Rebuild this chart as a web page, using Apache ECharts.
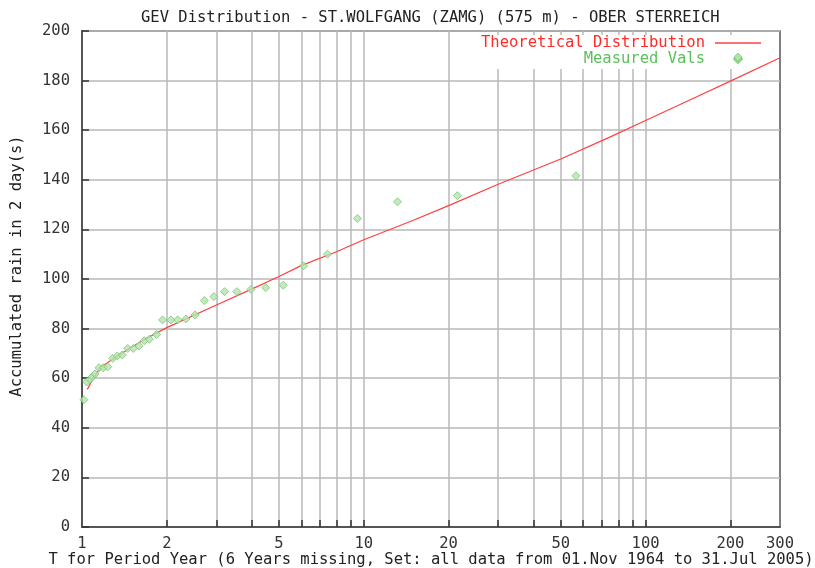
<!DOCTYPE html>
<html>
<head>
<meta charset="utf-8">
<script src="https://cdn.jsdelivr.net/npm/echarts@6/dist/echarts.min.js"></script>
<style>
  html, body { margin: 0; padding: 0; background: #fff; }
  #chart { width: 815px; height: 568px; }
</style>
</head>
<body>
<div id="chart"></div>
<script>
// return periods (years) and measured 2-day rain of the points
const measuredT = [1.016, 1.039, 1.067, 1.088, 1.112, 1.149, 1.19, 1.234, 1.285, 1.335,
  1.39, 1.453, 1.521, 1.594, 1.664, 1.733, 1.841, 1.932, 2.068, 2.186,
  2.337, 2.52, 2.717, 2.937, 3.206, 3.545, 3.977, 4.487, 5.178, 6.114,
  7.434, 9.488, 13.17, 21.48, 56.6, 212.8]
const measuredVals = [51.3, 58.5, 59.5, 60.6, 61.7, 64.2, 64.2, 64.6, 68, 69,
  69.4, 72, 72, 73, 75.1, 75.7, 77.6, 83.5, 83.5, 83.5,
  83.9, 85.5, 91.3, 92.9, 94.9, 94.9, 95.8, 96.5, 97.5, 105.3,
  110, 124.4, 131.1, 133.6, 141.6, 189.5]

// theoretical GEV curve
const theoryT = [1.044, 1.1, 1.171, 1.379, 1.669, 2, 3, 4, 5, 6, 8, 10, 15, 20, 30, 50, 75, 100, 150, 200, 300]
const theoryVals = [55.5, 60.2, 64.6, 70.0, 75.7, 80.4, 89.5, 95.9, 101.0, 105.4, 111.0, 115.8,
  123.7, 129.6, 138.2, 148.4, 157.3, 163.9, 173.2, 179.8, 189.2]

// axis ticks
const xGridVals = [2, 3, 4, 5, 6, 7, 8, 9, 10, 20, 30, 40, 50, 60, 70, 80, 90, 100, 200]
const xLabelVals = [1, 2, 5, 10, 20, 50, 100, 200, 300]

const FONT = 'DejaVu Sans Mono'
const FS = 15.5

const chart = echarts.init(document.getElementById('chart'))

const option = {
  animation: false,
  backgroundColor: '#fff',
  title: {
    text: 'GEV Distribution - ST.WOLFGANG (ZAMG) (575 m) - OBER STERREICH',
    left: 141,
    top: 10,
    padding: 0,
    textStyle: { fontFamily: FONT, fontSize: FS, fontWeight: 'normal', color: '#222' }
  },
  legend: {
    orient: 'vertical',
    align: 'right',
    right: 46,
    top: 35,
    padding: [0, 8, 2, 8],
    itemGap: 0,
    itemWidth: 46,
    itemHeight: 8,
    symbolKeepAspect: true,
    selectedMode: false,
    backgroundColor: '#fff',
    formatter: name => name.padStart(24, ' '),
    textStyle: { fontFamily: FONT, fontSize: FS, lineHeight: 14, padding: [0, 5, 0, 0] },
    data: [
      { name: 'Theoretical Distribution', icon: 'path://M0,0H46V1.5H0Z', textStyle: { color: '#ff2a2a' } },
      { name: 'Measured Vals', icon: 'path://M4,0L8,4L4,8L0,4Z', textStyle: { color: '#5cc05c' } }
    ],
    z: 1
  },
  grid: {
    left: 82,
    right: 35,
    top: 31,
    bottom: 41,
    outerBoundsMode: 'none',
    containLabel: false,
    show: true,
    borderColor: '#555',
    borderWidth: 1.5
  },
  xAxis: {
    type: 'log',
    logBase: 10,
    min: 1,
    max: 300,
    name: 'T for Period Year (6 Years missing, Set: all data from 01.Nov 1964 to 31.Jul 2005)',
    nameLocation: 'middle',
    nameMoveOverlap: false,
    nameGap: 25,
    nameTextStyle: { fontFamily: FONT, fontSize: FS, color: '#222' },
    axisLine: { show: true, lineStyle: { color: '#555', width: 2 } },
    axisTick: { show: true, inside: true, length: 7, customValues: xGridVals, lineStyle: { color: '#333', width: 1.5 } },
    axisLabel: { customValues: xLabelVals, margin: 9, fontFamily: FONT, fontSize: FS, color: '#333' },
    splitLine: { show: true, lineStyle: { color: '#b8b8b8', width: 1.5 } }
  },
  yAxis: {
    type: 'value',
    min: 0,
    max: 200,
    interval: 20,
    axisLine: { show: true, lineStyle: { color: '#555', width: 2 } },
    axisTick: { show: true, inside: true, length: 7, lineStyle: { color: '#333', width: 1.5 } },
    axisLabel: { margin: 12, fontFamily: FONT, fontSize: FS, color: '#333' },
    splitLine: { show: true, lineStyle: { color: '#b8b8b8', width: 1.5 } }
  },
  graphic: [
    {
      type: 'text',
      x: 17,
      y: 266,
      rotation: Math.PI / 2,
      style: {
        text: 'Accumulated rain in 2 day(s)',
        fontFamily: FONT,
        fontSize: FS,
        fill: '#222',
        align: 'center',
        verticalAlign: 'middle'
      }
    }
  ],
  series: [
    {
      name: 'Theoretical Distribution',
      type: 'line',
      symbol: 'none',
      data: theoryT.map((t, i) => [t, theoryVals[i]]),
      lineStyle: { color: '#ff4040', width: 1.2 },
      itemStyle: { color: '#ff4040' },
      z: 3
    },
    {
      name: 'Measured Vals',
      type: 'scatter',
      symbol: 'diamond',
      symbolSize: 8,
      data: measuredT.map((t, i) => [t, measuredVals[i]]),
      itemStyle: { color: '#b6e4ae', borderColor: '#78c878', borderWidth: 1 },
      z: 4
    }
  ]
}

chart.setOption(option)
</script>
</body>
</html>
